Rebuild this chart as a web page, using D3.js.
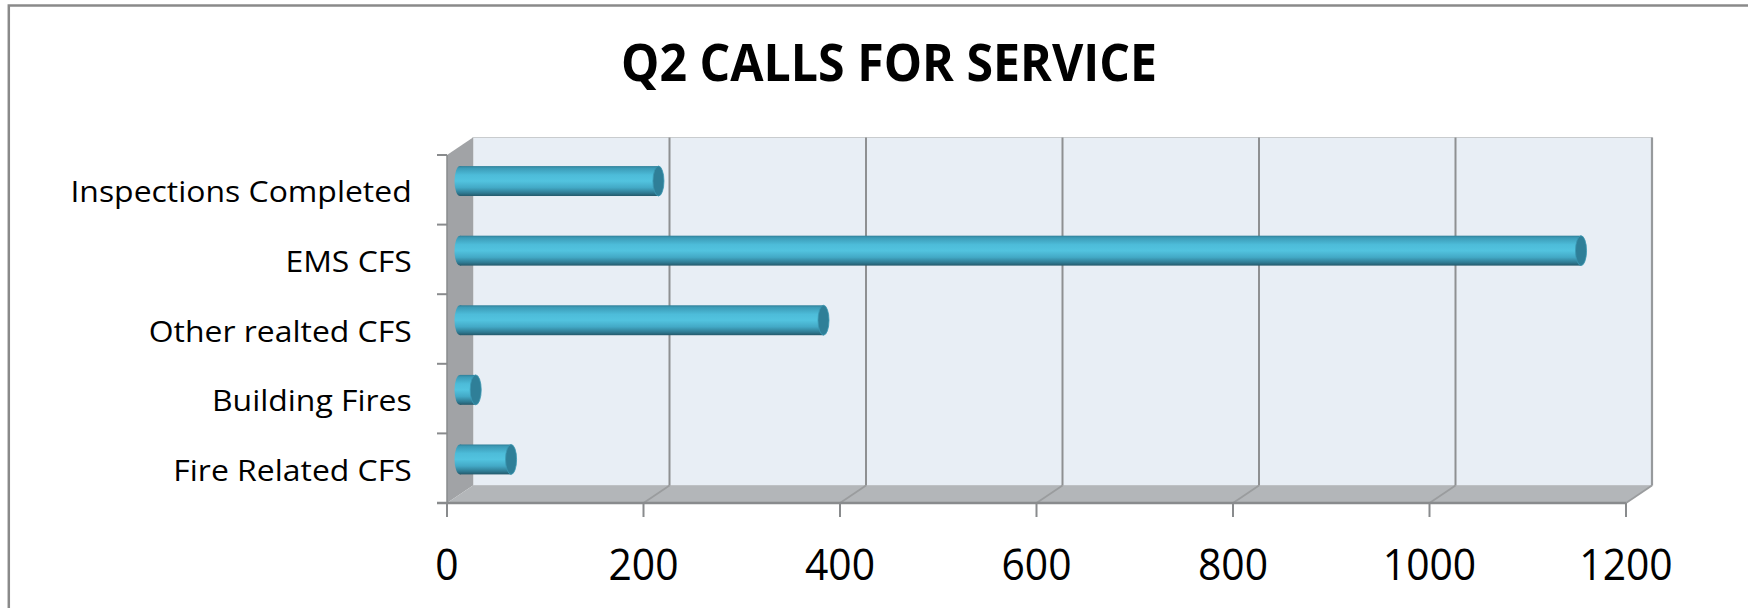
<!DOCTYPE html>
<html><head><meta charset="utf-8">
<script src="https://cdn.jsdelivr.net/npm/d3@7"></script>
<style>html,body{margin:0;padding:0;background:#fff;}svg{display:block;}</style>
</head><body>
<svg id="chart" width="1748" height="608"></svg>
<script>
// ---- data ----
const categories = ["Inspections Completed", "EMS CFS", "Other realted CFS", "Building Fires", "Fire Related CFS"];
const values = [202, 1141, 370, 16, 52];
const xTicks = [0, 200, 400, 600, 800, 1000, 1200];
const title = "Q2 CALLS FOR SERVICE";

// ---- layout ----
const W = 1748, H = 608;
const fx0 = 447, fx1 = 1626;       // front x-range
const fy0 = 155, fy1 = 503;        // front y-range
const dx = 26, dy = -17.5;         // depth offset
const svg = d3.select("#chart");
const font = "'Open Sans', 'DejaVu Sans', sans-serif";

const x = d3.scaleLinear().domain([0, 1200]).range([fx0, fx1]);
const y = d3.scaleBand().domain(categories).range([fy0, fy1]).paddingInner(0.57).paddingOuter(0.285);
const yb = d3.scaleBand().domain(categories).range([fy0, fy1]);

// outer frame
svg.append("rect").attr("x", 8.8).attr("y", 5.5).attr("width", W + 20).attr("height", H + 20)
  .attr("fill", "#fff").attr("stroke", "#8a8a8a").attr("stroke-width", 2.5);

// title
svg.append("text").attr("x", 889).attr("y", 81).attr("text-anchor", "middle")
  .attr("font-family", font).attr("font-weight", 700).attr("font-size", 52)
  .attr("textLength", 536).attr("lengthAdjust", "spacingAndGlyphs")
  .attr("fill", "#000").text(title);

// back wall
svg.append("rect").attr("x", fx0 + dx).attr("y", fy0 + dy).attr("width", fx1 - fx0).attr("height", fy1 - fy0)
  .attr("fill", "#e8eef5").attr("stroke", "#c9ccce").attr("stroke-width", 1);
// right edge of back wall
svg.append("line").attr("x1", fx1 + dx).attr("x2", fx1 + dx).attr("y1", fy0 + dy).attr("y2", fy1 + dy)
  .attr("stroke", "#979a9d").attr("stroke-width", 2.2);

// side wall
svg.append("polygon")
  .attr("points", [[fx0, fy0], [fx0 + dx, fy0 + dy], [fx0 + dx, fy1 + dy], [fx0, fy1]].map(p => p.join(",")).join(" "))
  .attr("fill", "#a1a3a6");
// floor
svg.append("polygon")
  .attr("points", [[fx0, fy1], [fx0 + dx, fy1 + dy], [fx1 + dx, fy1 + dy], [fx1, fy1]].map(p => p.join(",")).join(" "))
  .attr("fill", "#b3b6b9");

// gridlines on back wall + floor
const grid = svg.append("g");
xTicks.slice(1).forEach(t => {
  if (t < 1200) {
    grid.append("line").attr("x1", x(t) + dx).attr("x2", x(t) + dx).attr("y1", fy0 + dy).attr("y2", fy1 + dy)
      .attr("stroke", "#8e9092").attr("stroke-width", 2);
  }
  grid.append("line").attr("x1", x(t)).attr("x2", x(t) + dx).attr("y1", fy1).attr("y2", fy1 + dy)
    .attr("stroke", "#9a9c9e").attr("stroke-width", 1.8);
});

// bars (cylinders)
const defs = svg.append("defs");
const grad = defs.append("linearGradient").attr("id", "cyl").attr("x1", 0).attr("y1", 0).attr("x2", 0).attr("y2", 1);
[[0, "#2f7f98"], [0.07, "#3c9bb7"], [0.3, "#4dbcd9"], [0.5, "#52c3df"], [0.72, "#43a9c6"], [0.9, "#2f7a92"], [1, "#24596b"]]
  .forEach(([o, c]) => grad.append("stop").attr("offset", o).attr("stop-color", c));

const rx = 5.5;
const bars = svg.append("g").selectAll("g").data(categories).join("g");
bars.each(function (c, i) {
  const g = d3.select(this);
  const h = y.bandwidth();
  const cy = y(c) + h / 2 + dy / 2;
  const xa = x(0) + dx / 2, xb = x(values[i]) + dx / 2;
  g.append("ellipse").attr("cx", xa).attr("cy", cy).attr("rx", rx).attr("ry", h / 2).attr("fill", "url(#cyl)");
  g.append("rect").attr("x", xa).attr("y", cy - h / 2).attr("width", Math.max(0, xb - xa)).attr("height", h).attr("fill", "url(#cyl)");
  g.append("ellipse").attr("cx", xb).attr("cy", cy).attr("rx", rx).attr("ry", h / 2)
    .attr("fill", "#2f7f98").attr("stroke", "#3b98b3").attr("stroke-width", 0.8);
});

// axes lines & ticks
const axisColor = "#898b8d";
svg.append("line").attr("x1", fx0).attr("x2", fx0).attr("y1", fy0).attr("y2", fy1).attr("stroke", axisColor).attr("stroke-width", 1.5);
svg.append("line").attr("x1", fx0 - 10).attr("x2", fx1).attr("y1", fy1).attr("y2", fy1).attr("stroke", axisColor).attr("stroke-width", 2.5);
categories.forEach(c => {
  svg.append("line").attr("x1", fx0 - 10).attr("x2", fx0).attr("y1", yb(c)).attr("y2", yb(c)).attr("stroke", axisColor).attr("stroke-width", 2);
});
xTicks.forEach(t => {
  svg.append("line").attr("x1", x(t)).attr("x2", x(t)).attr("y1", fy1).attr("y2", fy1 + 14).attr("stroke", axisColor).attr("stroke-width", 2);
});

// x tick labels
svg.append("g").selectAll("text").data(xTicks).join("text")
  .attr("transform", d => `translate(${x(d)},580) scale(0.95,1)`)
  .attr("text-anchor", "middle").attr("font-family", font).attr("font-size", 43).attr("fill", "#000")
  .text(d => d);

// category labels
svg.append("g").selectAll("text").data(categories).join("text")
  .attr("transform", c => `translate(411.7,${yb(c) + yb.bandwidth() / 2 + 12.5}) scale(1.12,1)`)
  .attr("text-anchor", "end").attr("font-family", font).attr("font-size", 28.5).attr("fill", "#000")
  .text(c => c);
</script>
</body></html>
